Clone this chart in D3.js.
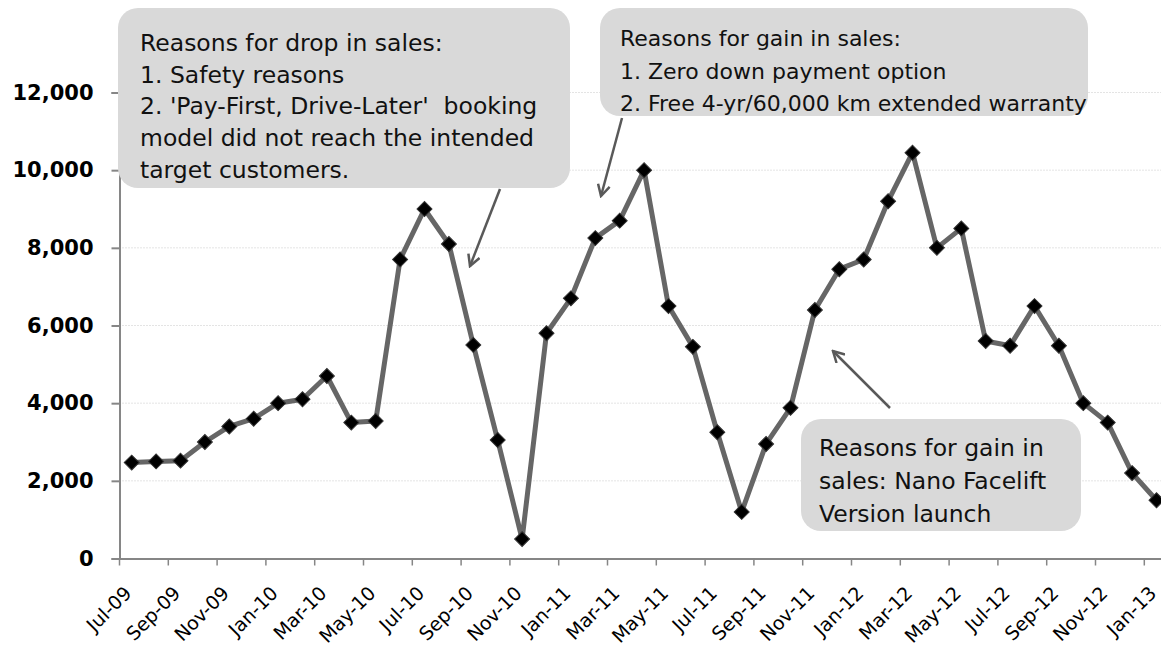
<!DOCTYPE html>
<html>
<head>
<meta charset="utf-8">
<script src="https://cdn.jsdelivr.net/npm/d3@7/dist/d3.min.js"></script>
<style>
  body { margin: 0; background: #fff; }
  svg { display: block; font-family: "DejaVu Sans", sans-serif; }
</style>
</head>
<body>
<svg id="chart" width="1161" height="650"></svg>
<script>
// monthly sales, Jul-09 .. Jan-13
const months = [
    "Jul-09", "Aug-09", "Sep-09", "Oct-09", "Nov-09", "Dec-09",
    "Jan-10", "Feb-10", "Mar-10", "Apr-10", "May-10", "Jun-10",
    "Jul-10", "Aug-10", "Sep-10", "Oct-10", "Nov-10", "Dec-10",
    "Jan-11", "Feb-11", "Mar-11", "Apr-11", "May-11", "Jun-11",
    "Jul-11", "Aug-11", "Sep-11", "Oct-11", "Nov-11", "Dec-11",
    "Jan-12", "Feb-12", "Mar-12", "Apr-12", "May-12", "Jun-12",
    "Jul-12", "Aug-12", "Sep-12", "Oct-12", "Nov-12", "Dec-12",
    "Jan-13"
];
const sales = [
    2470, 2500, 2520, 3000, 3400, 3600,
    4000, 4100, 4700, 3500, 3540, 7700,
    9000, 8100, 5500, 3050, 500, 5800,
    6700, 8250, 8700, 10000, 6500, 5450,
    3250, 1200, 2950, 3880, 6400, 7450,
    7700, 9200, 10450, 8000, 8500, 5600,
    5480, 6500, 5480, 4000, 3500, 2200,
    1500
];
const yTicks = [0, 2000, 4000, 6000, 8000, 10000, 12000];
const xTickLabels = months.filter((d, i) => i % 2 === 0);

// callouts: box, text lines, arrow (from -> tip)
const notes = [
    {
        box: [118, 8, 452, 180],
        text: [140, 51],
        size: 23.5,
        lead: 31.7,
        lines: ["Reasons for drop in sales:", "1. Safety reasons",
            "2. 'Pay-First, Drive-Later'  booking",
            "model did not reach the intended", "target customers."],
        arrow: [500, 189, 470, 266]
    },
    {
        box: [600, 8, 488, 108],
        text: [620, 46],
        size: 22,
        lead: 32.5,
        lines: ["Reasons for gain in sales:", "1. Zero down payment option",
            "2. Free 4-yr/60,000 km extended warranty"],
        arrow: [622, 118, 601, 196]
    },
    {
        box: [801, 419, 280, 112],
        text: [819, 456],
        size: 23.5,
        lead: 33,
        lines: ["Reasons for gain in", "sales: Nano Facelift", "Version launch"],
        arrow: [890, 408, 833, 351]
    }
];

const svg = d3.select('#chart');
const plotLeft = 119.5, plotTop = 92.5, plotBottom = 558.5;
const step = 24.4;

const x = d3.scaleBand()
    .domain(months)
    .range([plotLeft, plotLeft + step * months.length]);

const y = d3.scaleLinear()
    .domain([0, 12000])
    .range([plotBottom, plotTop]);

// gridlines
svg.append('g')
    .selectAll('line')
    .data(yTicks.filter(d => d > 0))
    .join('line')
    .attr('x1', plotLeft)
    .attr('x2', 1161)
    .attr('y1', d => y(d))
    .attr('y2', d => y(d))
    .attr('stroke', '#c9c9c9')
    .attr('stroke-width', 1)
    .attr('stroke-dasharray', '1,2');

// y axis
const yAxis = svg.append('g')
    .attr('transform', 'translate(' + plotLeft + ',0)')
    .call(d3.axisLeft(y).tickValues(yTicks).tickSize(8).tickPadding(18)
        .tickFormat(d3.format(',')));
yAxis.selectAll('path, line').attr('stroke', '#868686').attr('stroke-width', 2);
yAxis.selectAll('text')
    .attr('font-size', 21)
    .attr('font-weight', 'bold')
    .attr('font-family', '"DejaVu Sans", sans-serif')
    .attr('fill', '#000');

// x axis, tick marks sit on band edges
const xAxis = svg.append('g')
    .attr('transform', 'translate(0,' + plotBottom + ')')
    .call(d3.axisBottom(x).tickValues(xTickLabels).tickSize(7).tickSizeOuter(0));
xAxis.select('.domain').attr('stroke', '#868686').attr('stroke-width', 2);
xAxis.selectAll('.tick line')
    .attr('stroke', '#868686')
    .attr('stroke-width', 1.5)
    .attr('x1', -x.bandwidth() / 2)
    .attr('x2', -x.bandwidth() / 2);
xAxis.selectAll('.tick text')
    .attr('font-size', 19)
    .attr('font-family', '"DejaVu Sans", sans-serif')
    .attr('fill', '#000')
    .attr('text-anchor', 'end')
    .attr('dy', 0)
    .attr('x', 1)
    .attr('y', 36)
    .attr('transform', 'rotate(-45, 1, 36)');

// line
const line = d3.line()
    .x((d, i) => x(months[i]) + x.bandwidth() / 2)
    .y(d => y(d));

svg.append('path')
    .datum(sales)
    .attr('d', line)
    .attr('fill', 'none')
    .attr('stroke', '#666666')
    .attr('stroke-width', 5)
    .attr('stroke-linejoin', 'round');

// diamond markers
const diamond = d3.symbol().type(d3.symbolSquare).size(112);
svg.append('g')
    .selectAll('path')
    .data(sales)
    .join('path')
    .attr('d', diamond)
    .attr('transform', (d, i) =>
        'translate(' + (x(months[i]) + x.bandwidth() / 2) + ',' + y(d) + ') rotate(45)')
    .attr('fill', '#000')
    .attr('stroke', '#333')
    .attr('stroke-width', 1);

// callouts
svg.append('defs').append('marker')
    .attr('id', 'head')
    .attr('viewBox', '0 0 14 14')
    .attr('refX', 12)
    .attr('refY', 7)
    .attr('markerWidth', 14)
    .attr('markerHeight', 14)
    .attr('markerUnits', 'userSpaceOnUse')
    .attr('orient', 'auto')
    .append('path')
    .attr('d', 'M1,1 L12,7 L1,13')
    .attr('fill', 'none')
    .attr('stroke', '#595959')
    .attr('stroke-width', 2.5);

const note = svg.append('g')
    .selectAll('g')
    .data(notes)
    .join('g');

note.append('line')
    .attr('x1', d => d.arrow[0])
    .attr('y1', d => d.arrow[1])
    .attr('x2', d => d.arrow[2])
    .attr('y2', d => d.arrow[3])
    .attr('stroke', '#595959')
    .attr('stroke-width', 2.5)
    .attr('marker-end', 'url(#head)');

note.append('rect')
    .attr('x', d => d.box[0])
    .attr('y', d => d.box[1])
    .attr('width', d => d.box[2])
    .attr('height', d => d.box[3])
    .attr('rx', 20)
    .attr('fill', '#d9d9d9');

note.each(function (d) {
    const t = d3.select(this).append('text')
        .attr('font-size', d.size)
        .attr('fill', '#111');
    d.lines.forEach((s, i) => {
        t.append('tspan')
            .attr('x', d.text[0])
            .attr('y', d.text[1] + i * d.lead)
            .attr('xml:space', 'preserve')
            .text(s);
    });
});
</script>
</body>
</html>
